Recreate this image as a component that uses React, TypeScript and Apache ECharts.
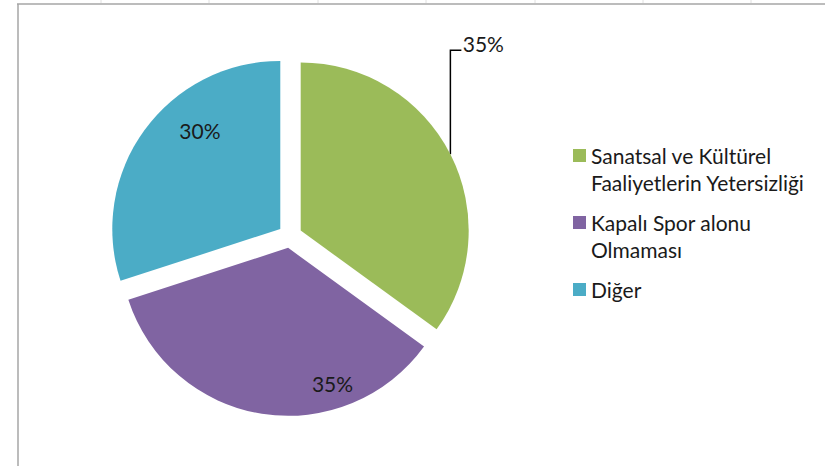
import React, { useEffect, useRef } from "react";
import * as echarts from "echarts";

const categories = [
  "Sanatsal ve Kültürel\nFaaliyetlerin Yetersizliği",
  "Kapalı Spor alonu\nOlmaması",
  "Diğer",
];
const values = [35, 35, 30];
const colors = ["#9BBB59", "#8064A2", "#4BACC6"];
const gridTicks = [101, 209, 318, 426, 535, 643, 751];

export default function App() {
  const ref = useRef<HTMLDivElement>(null);
  useEffect(() => {
    document.body.style.margin = "0";
    const chart = echarts.init(ref.current!, undefined, { renderer: "svg" });
    const font = "Lato, 'Open Sans', sans-serif";
    chart.setOption({
      animation: false,
      backgroundColor: "#ffffff",
      graphic: [
        {
          type: "line",
          shape: { x1: 17, y1: 4, x2: 825, y2: 4 },
          style: { stroke: "#a6a6a6", lineWidth: 1.5 },
        },
        {
          type: "line",
          shape: { x1: 18, y1: 4, x2: 18, y2: 466 },
          style: { stroke: "#a6a6a6", lineWidth: 1.5 },
        },
        ...gridTicks.map((x) => ({
          type: "line",
          shape: { x1: x, y1: 0, x2: x, y2: 3 },
          style: { stroke: "#e0e0e0", lineWidth: 1 },
        })),
      ],
      legend: {
        orient: "vertical",
        left: 573,
        top: 115,
        padding: 0,
        itemWidth: 13,
        itemHeight: 13,
        itemGap: -14,
        icon: "rect",
        selectedMode: false,
        data: categories,
        formatter: (name: string) =>
          "\n" + name + (name.includes("\n") ? "" : "\n"),
        textStyle: {
          fontFamily: font,
          fontSize: 21,
          lineHeight: 27,
          color: "#1a1a1a",
        },
      },
      series: [
        {
          type: "pie",
          center: [290, 236],
          radius: 168,
          startAngle: 90,
          clockwise: true,
          selectedMode: "multiple",
          selectedOffset: 12,
          avoidLabelOverlap: false,
          label: {
            show: true,
            position: "inside",
            formatter: "{d}%",
            fontFamily: font,
            fontSize: 21,
            color: "#1a1a1a",
          },
          labelLine: { show: false },
          labelLayout: (params: any) => {
            if (params.dataIndex === 0) {
              const pts = params.labelLinePoints;
              if (!pts) return {};
              const p0 = pts[0];
              const topY = p0[1] - 104;
              return {
                dx: -36,
                dy: -104,
                labelLinePoints: [p0, [p0[0], topY], [p0[0] + 11, topY]],
              };
            }
            if (params.dataIndex === 1) return { dx: 58, dy: 50 };
            return { dx: -10, dy: -47 };
          },
          emphasis: { disabled: true },
          itemStyle: { borderWidth: 0 },
          data: categories.map((name, i) => ({
            name,
            value: values[i],
            selected: true,
            itemStyle: { color: colors[i] },
            label: i === 0 ? { position: "outside" } : undefined,
            labelLine:
              i === 0
                ? { show: true, lineStyle: { color: "#000000", width: 1.5 } }
                : undefined,
          })),
        },
      ],
    });
    return () => chart.dispose();
  }, []);
  return <div ref={ref} style={{ width: 825, height: 466 }} />;
}
